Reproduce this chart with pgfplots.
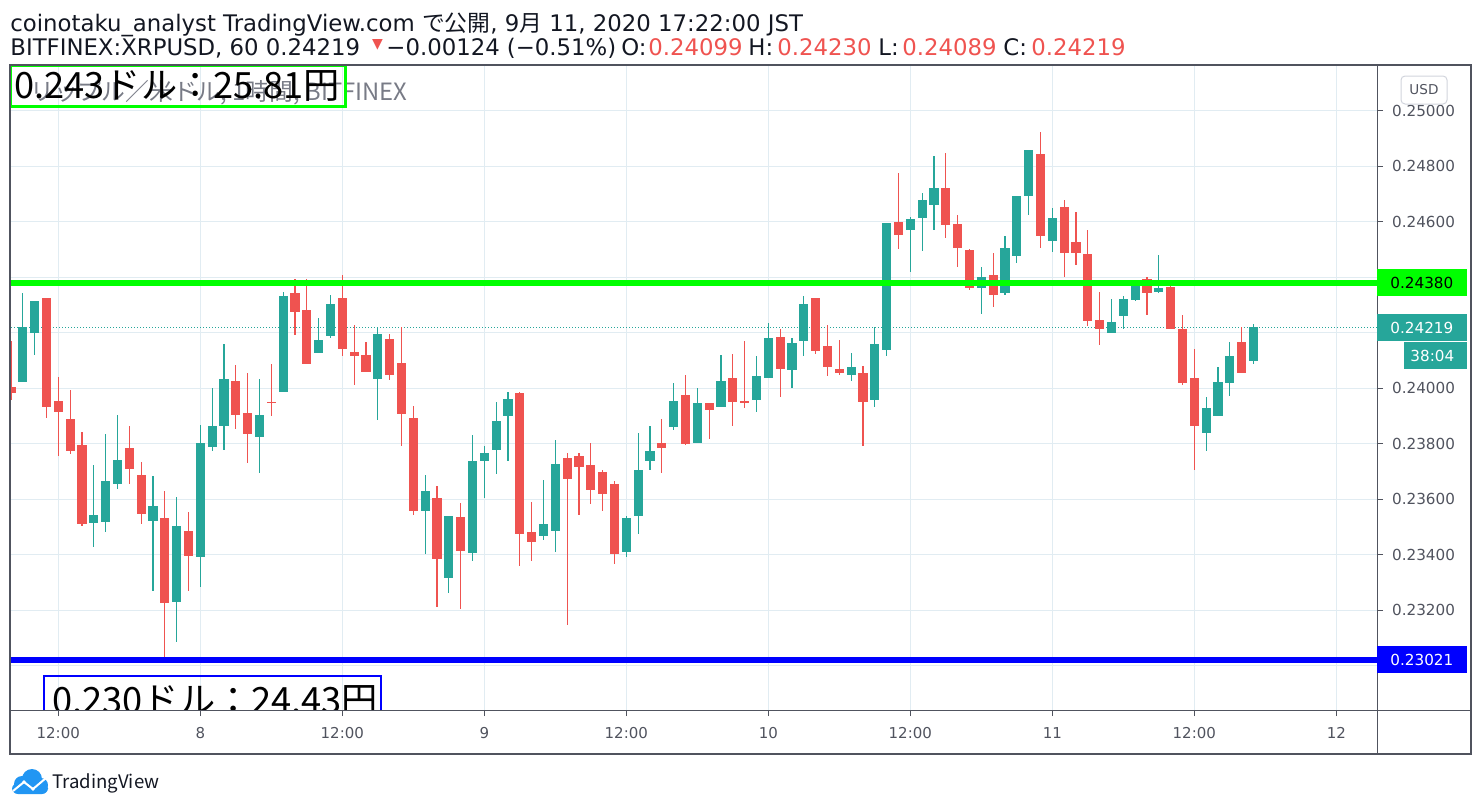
\documentclass[border=0pt]{standalone}
\usepackage{fontspec}
\setmainfont{DejaVu Sans}
\newfontfamily\cjk{Noto Sans CJK JP}
\usepackage{pgfplots}
\pgfplotsset{compat=1.18}
\usepackage{pgfplotstable}
\definecolor{cgreen}{HTML}{26A69A}
\definecolor{cred}{HTML}{EF5350}
\definecolor{gridc}{HTML}{E1ECF2}
\definecolor{framec}{HTML}{50535E}
\definecolor{txt}{HTML}{131722}
\definecolor{lblc}{HTML}{50535E}
\definecolor{tvblue}{HTML}{2196F3}
\definecolor{lime}{HTML}{00FF00}
\definecolor{pureblue}{HTML}{0000FF}
\definecolor{subgray}{HTML}{787B86}
\definecolor{usdbox}{HTML}{D1D4DC}

% hourly candles, t = hours after 8 Sep 00:00
\pgfplotstableread{
t o h l c
-15 0.24024 0.24345 0.24024 0.24220
-14 0.24199 0.24316 0.24121 0.24313
-9 0.23515 0.23725 0.23426 0.23543
-8 0.23519 0.23836 0.23483 0.23664
-7 0.23655 0.23904 0.23637 0.23743
-4 0.23522 0.23682 0.23268 0.23575
-2 0.23229 0.23607 0.23085 0.23503
0 0.23390 0.23869 0.23282 0.23804
1 0.23787 0.24001 0.23773 0.23865
2 0.23863 0.24159 0.23777 0.24033
5 0.23826 0.24032 0.23693 0.23903
7 0.23987 0.24347 0.23987 0.24333
10 0.24127 0.24254 0.24127 0.24172
11 0.24187 0.24337 0.24180 0.24304
15 0.24033 0.24219 0.23887 0.24197
19 0.23557 0.23688 0.23403 0.23631
21 0.23317 0.23538 0.23263 0.23538
23 0.23407 0.23832 0.23378 0.23739
24 0.23736 0.23792 0.23604 0.23767
25 0.23777 0.23951 0.23691 0.23883
26 0.23899 0.23987 0.23737 0.23962
29 0.23469 0.23668 0.23454 0.23510
30 0.23487 0.23815 0.23408 0.23725
36 0.23411 0.23539 0.23390 0.23532
37 0.23540 0.23840 0.23476 0.23704
38 0.23737 0.23865 0.23705 0.23772
40 0.23859 0.24019 0.23848 0.23955
42 0.23802 0.24001 0.23802 0.23947
44 0.23931 0.24119 0.23931 0.24026
47 0.23956 0.24116 0.23916 0.24044
48 0.24038 0.24234 0.24038 0.24180
50 0.24067 0.24180 0.24002 0.24162
51 0.24171 0.24331 0.24117 0.24302
55 0.24049 0.24127 0.24027 0.24076
57 0.23956 0.24220 0.23934 0.24159
58 0.24139 0.24596 0.24117 0.24596
60 0.24572 0.24617 0.24418 0.24610
61 0.24615 0.24703 0.24493 0.24678
62 0.24662 0.24836 0.24572 0.24721
66 0.24362 0.24436 0.24266 0.24401
68 0.24345 0.24547 0.24337 0.24504
69 0.24477 0.24694 0.24452 0.24694
70 0.24692 0.24859 0.24624 0.24859
72 0.24531 0.24648 0.24491 0.24612
77 0.24198 0.24322 0.24198 0.24239
78 0.24259 0.24333 0.24213 0.24322
79 0.24319 0.24375 0.24313 0.24369
81 0.24345 0.24480 0.24342 0.24362
85 0.23840 0.23968 0.23772 0.23928
86 0.23901 0.24075 0.23901 0.24021
87 0.24019 0.24165 0.23973 0.24115
89 0.24099 0.24230 0.24089 0.24219
}\greenTab

\pgfplotstableread{
t o h l c
-16 0.24005 0.24170 0.23956 0.23981
-13 0.24324 0.24324 0.23891 0.23934
-12 0.23955 0.24041 0.23755 0.23913
-11 0.23890 0.23994 0.23762 0.23773
-10 0.23797 0.23844 0.23504 0.23512
-6 0.23783 0.23865 0.23655 0.23709
-5 0.23686 0.23733 0.23512 0.23547
-3 0.23532 0.23629 0.23021 0.23225
-1 0.23485 0.23553 0.23268 0.23397
3 0.24026 0.24084 0.23852 0.23902
4 0.23912 0.24055 0.23730 0.23834
6 0.23952 0.24086 0.23901 0.23947
8 0.24344 0.24393 0.24191 0.24273
9 0.24283 0.24393 0.24087 0.24087
12 0.24326 0.24408 0.24116 0.24141
13 0.24129 0.24229 0.24012 0.24116
14 0.24118 0.24168 0.24059 0.24059
16 0.24179 0.24197 0.24030 0.24048
17 0.24090 0.24219 0.23790 0.23908
18 0.23893 0.23936 0.23543 0.23557
20 0.23606 0.23649 0.23210 0.23385
22 0.23534 0.23588 0.23206 0.23414
27 0.23983 0.23987 0.23358 0.23476
28 0.23482 0.23589 0.23379 0.23444
31 0.23750 0.23765 0.23146 0.23673
32 0.23754 0.23765 0.23544 0.23716
33 0.23725 0.23804 0.23583 0.23633
34 0.23697 0.23707 0.23558 0.23619
35 0.23654 0.23664 0.23365 0.23404
39 0.23801 0.23890 0.23694 0.23784
41 0.23976 0.24048 0.23795 0.23798
43 0.23947 0.23947 0.23816 0.23920
45 0.24037 0.24123 0.23863 0.23952
46 0.23955 0.24170 0.23927 0.23945
49 0.24184 0.24213 0.23970 0.24070
52 0.24324 0.24324 0.24124 0.24135
53 0.24152 0.24227 0.24045 0.24078
54 0.24069 0.24173 0.24049 0.24053
56 0.24055 0.24080 0.23791 0.23952
59 0.24599 0.24775 0.24500 0.24554
63 0.24721 0.24847 0.24543 0.24590
64 0.24592 0.24624 0.24436 0.24504
65 0.24497 0.24500 0.24355 0.24362
67 0.24408 0.24487 0.24294 0.24337
71 0.24845 0.24924 0.24506 0.24549
73 0.24655 0.24680 0.24402 0.24488
74 0.24526 0.24637 0.24445 0.24488
75 0.24483 0.24569 0.24226 0.24244
76 0.24247 0.24347 0.24155 0.24212
80 0.24394 0.24401 0.24263 0.24342
82 0.24365 0.24371 0.24213 0.24213
83 0.24215 0.24265 0.24012 0.24019
84 0.24036 0.24143 0.23707 0.23862
88 0.24165 0.24219 0.24055 0.24055
}\redTab

\pgfplotsset{
  wick/.style={draw=none, mark=none,
    error bars/y dir=both, error bars/y explicit, error bars/error mark=none,
    error bars/error bar style={draw=#1, line width=0.6pt, solid}},
  body/.style={draw=none, mark=none,
    error bars/y dir=both, error bars/y explicit, error bars/error mark=none,
    error bars/error bar style={draw=#1, line width=4.6pt, solid}},
}

\begin{document}
\begin{tikzpicture}
\path[use as bounding box] (0pt,0pt) rectangle (740.5pt,-404.5pt);
\begin{axis}[
  at={(5pt,-355pt)}, anchor=south west,
  scale only axis, width=683.5pt, height=322.5pt,
  xmin=-16.08, xmax=99.44, ymin=0.22840, ymax=0.25165,
  axis line style={draw=none},
  xtick={-12,0,12,24,36,48,60,72,84,96},
  xticklabels={12:00,8,12:00,9,12:00,10,12:00,11,12:00,12},
  ytick={0.230,0.232,0.234,0.236,0.238,0.240,0.242,0.244,0.246,0.248,0.250},
  yticklabels={{},0.23200,0.23400,0.23600,0.23800,0.24000,{},{},0.24600,0.24800,0.25000},
  xtick pos=bottom, ytick pos=right, yticklabel pos=right,
  tick align=outside, major tick length=3pt,
  tick style={draw=framec, line width=0.5pt},
  grid=major, major grid style={draw=gridc, line width=0.5pt},
  xticklabel style={font=\fontsize{7.5}{9}\selectfont, text=lblc, anchor=north, yshift=-2pt},
  yticklabel style={font=\fontsize{7.6}{9}\selectfont, text=lblc, anchor=west, xshift=1pt},
  clip=true,
]
\addplot[draw=cgreen, line width=0.5pt, dash pattern=on 0.5pt off 1pt] coordinates {(-17,0.24219) (100,0.24219)};
\addplot[wick=cred] table[x=t, y expr={(\thisrow{h}+\thisrow{l})/2}, y error expr={(\thisrow{h}-\thisrow{l})/2}] {\redTab};
\addplot[wick=cgreen] table[x=t, y expr={(\thisrow{h}+\thisrow{l})/2}, y error expr={(\thisrow{h}-\thisrow{l})/2}] {\greenTab};
\addplot[body=cred] table[x=t, y expr={(\thisrow{o}+\thisrow{c})/2}, y error expr={max(abs(\thisrow{o}-\thisrow{c})/2,0.000018)}] {\redTab};
\addplot[body=cgreen] table[x=t, y expr={(\thisrow{o}+\thisrow{c})/2}, y error expr={max(abs(\thisrow{o}-\thisrow{c})/2,0.000018)}] {\greenTab};
\addplot[draw=lime, line width=3pt] coordinates {(-17,0.24380) (100,0.24380)};
\addplot[draw=pureblue, line width=3pt] coordinates {(-17,0.23021) (100,0.23021)};
\end{axis}

\begin{scope}[x=0.5pt,y=-0.5pt]
% annotation boxes
\node[anchor=base west, inner sep=0, text=subgray, font=\cjk\fontsize{11.9}{13}\selectfont] at (30,100) {リップル／米ドル, 1時間, BITFINEX};
\draw[lime, line width=1.5pt] (10,65) rectangle (345,106.5);
\node[anchor=base west, inner sep=0, text=black, font=\cjk\fontsize{18.1}{20}\selectfont] at (14,98) {0.243ドル：25.81円};
\begin{scope}
\clip (10,600) rectangle (1377,710);
\draw[pureblue, line width=1.3pt] (44,676) rectangle (381,730);
\node[anchor=base west, inner sep=0, text=black, font=\cjk\fontsize{18.1}{20}\selectfont] at (52,713) {0.230ドル：24.43円};
\end{scope}
% frame
\draw[framec, line width=0.5pt] (1377,65) -- (1377,753);
\draw[framec, line width=0.5pt] (10,710) -- (1471,710);
\draw[framec, line width=1pt] (10,65) rectangle (1471,753.5);
% price axis boxes
\fill[lime] (1377,269) rectangle (1467,296);
\node[anchor=west, inner sep=0, text=black, font=\fontsize{7.6}{9}\selectfont] at (1390,282.5) {0.24380};
\fill[cgreen] (1377,314) rectangle (1467,341);
\node[anchor=west, inner sep=0, text=white, font=\fontsize{7.6}{9}\selectfont] at (1390,327.5) {0.24219};
\fill[cgreen] (1404,342) rectangle (1467,369);
\node[anchor=west, inner sep=0, text=white, font=\fontsize{7.6}{9}\selectfont] at (1410,355.5) {38:04};
\fill[pureblue] (1377,646) rectangle (1467,673);
\node[anchor=west, inner sep=0, text=white, font=\fontsize{7.6}{9}\selectfont] at (1390,659.5) {0.23021};
\draw[usdbox, line width=0.5pt, rounded corners=2pt] (1401,76) rectangle (1447,104);
\node[text=lblc, inner sep=0, font=\fontsize{6.8}{8}\selectfont] at (1424,90) {USD};
% header
\begin{scope}[every node/.style={anchor=base west, inner sep=0, text=txt, font=\fontsize{11.4}{13}\selectfont}]
\node at (10,31.7) {coinotaku\_analyst TradingView.com {\cjk で公開}, 9{\cjk 月} 11, 2020 17:22:00 JST};
\node at (10,55) {BITFINEX:XRPUSD, 60 0.24219};
\node at (386,55) {−0.00124 (−0.51\%)};
\node at (621,55) {O:};
\node[text=cred] at (648,55) {0.24099};
\node at (748,55) {H:};
\node[text=cred] at (777,55) {0.24230};
\node at (878,55) {L:};
\node[text=cred] at (902,55) {0.24089};
\node at (1003,55) {C:};
\node[text=cred] at (1031,55) {0.24219};
\end{scope}
\node[inner sep=0, text=cred, font=\fontsize{7}{8}\selectfont] at (377.5,44.5) {▼};
% TradingView logo
\fill[tvblue] (22,784) circle (8);
\fill[tvblue] (32,779) circle (10);
\fill[tvblue] (41,785) circle (7);
\fill[tvblue, rounded corners=3pt] (12,783) rectangle (48,794);
\draw[white, line width=1pt] (13,791) -- (24,782) -- (33,789) -- (46,778);
\fill[white] (24,782) circle (1.8);
\fill[white] (33,789) circle (1.8);
\node[anchor=base west, inner sep=0, text=txt, font=\cjk\fontsize{9.3}{11}\selectfont] at (52,788) {TradingView};
\end{scope}
\end{tikzpicture}
\end{document}
